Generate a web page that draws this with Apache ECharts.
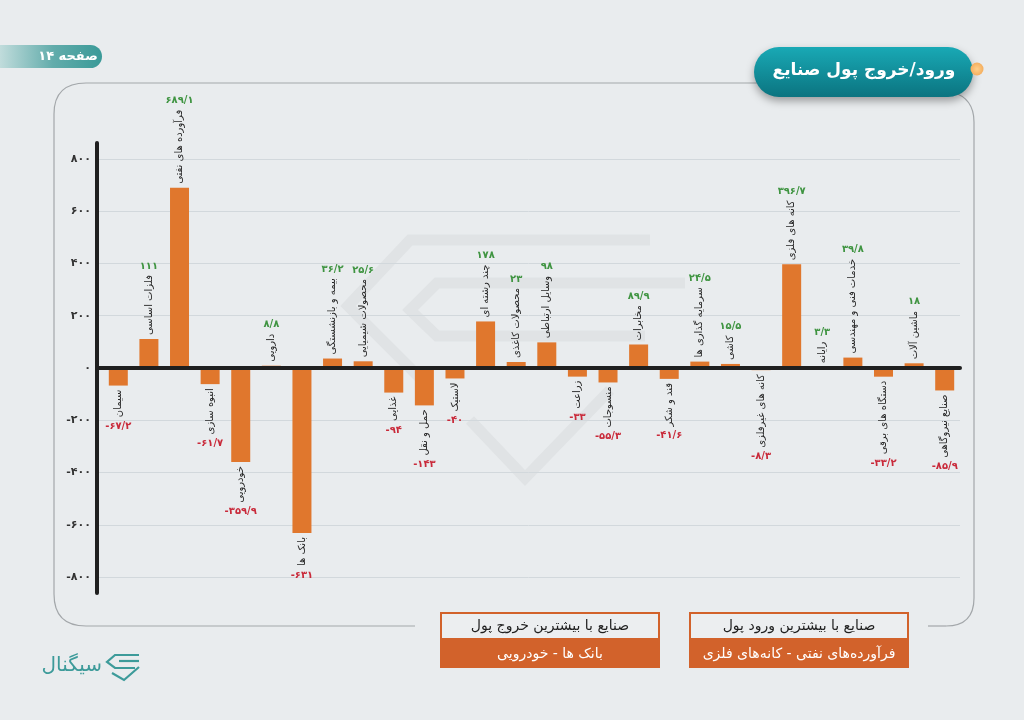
<!DOCTYPE html>
<html>
<head>
<meta charset="utf-8">
<script src="https://cdn.jsdelivr.net/npm/echarts@6/dist/echarts.min.js"></script>
<style>
html,body{margin:0;padding:0;background:#e9ecee;}
#chart{width:1024px;height:720px;}
</style>
</head>
<body>
<div id="chart"></div>
<script>
// ---------- data ----------
const categories = ['سیمان','فلزات اساسی','فرآورده های نفتی','انبوه سازی','خودرویی','دارویی','بانک ها','بیمه و بازنشستگی','محصولات شیمیایی','غذایی','حمل و نقل','لاستیک','چند رشته ای','محصولات کاغذی','وسایل ارتباطی','زراعت','منسوجات','مخابرات','قند و شکر','سرمایه گذاری ها','کاشی','کانه های غیرفلزی','کانه های فلزی','رایانه','خدمات فنی و مهندسی','دستگاه های برقی','ماشین آلات','صنایع نیروگاهی'];
const values = [-67.2,111,689.1,-61.7,-359.9,8.8,-631,36.2,25.6,-94,-143,-40,178,23,98,-33,-55.3,89.9,-41.6,24.5,15.5,-8.3,396.7,3.3,39.8,-33.2,18,-85.9];
const yTicks = [-800,-600,-400,-200,0,200,400,600,800];
const titleText = 'ورود/خروج پول صنایع';
const pageText = 'صفحه ۱۴';
const outTitle = 'صنایع با بیشترین خروج پول';
const outItems = 'بانک ها - خودرویی';
const inTitle = 'صنایع با بیشترین ورود پول';
const inItems = 'فرآورده‌های نفتی - کانه‌های فلزی';
const brandText = 'سیگنال';

// ---------- helpers ----------
const faDigits = '۰۱۲۳۴۵۶۷۸۹';
function toFa(v){
  return String(v).replace('.', '/').replace(/[0-9]/g, d => faDigits[+d]);
}
const FONT = '"DejaVu Sans", "Noto Sans", sans-serif';
const NAME_SIZE = 10;
const measureCtx = document.createElement('canvas').getContext('2d');
function textWidth(t, font){ measureCtx.font = font; return measureCtx.measureText(t).width; }

const ORANGE = '#e0772d';
const GREEN = '#3f9441';
const RED = '#c92a3a';
const TEAL = '#3d9b9a';
const FRAME = '#a3a7aa';

const chart = echarts.init(document.getElementById('chart'), null, {renderer:'canvas'});

function renderLabel(params, api){
  const i = api.value(0), v = api.value(1);
  const p = api.coord([i, v]);
  const name = categories[i];
  const nameFont = NAME_SIZE + 'px ' + FONT;
  const w = textWidth(name, nameFont);
  const gap = 4;
  const children = [];
  if (v >= 0){
    children.push({type:'text', x:p[0], y:p[1]-gap, rotation:Math.PI/2,
      style:{text:name, font:nameFont, fill:'#262626', align:'left', verticalAlign:'middle'}});
    children.push({type:'text', x:p[0], y:p[1]-gap-w-4,
      style:{text:toFa(v), font:'bold 10px ' + FONT, fill:GREEN, align:'center', verticalAlign:'bottom'}});
  } else {
    children.push({type:'text', x:p[0], y:p[1]+gap, rotation:Math.PI/2,
      style:{text:name, font:nameFont, fill:'#262626', align:'right', verticalAlign:'middle'}});
    children.push({type:'text', x:p[0], y:p[1]+gap+w+4,
      style:{text:toFa(v), font:'bold 10px ' + FONT, fill:RED, align:'center', verticalAlign:'top'}});
  }
  return {type:'group', children};
}

function seg(x1,y1,x2,y2){
  return {type:'line', z:0, silent:true, shape:{x1,y1,x2,y2}, style:{stroke:FRAME, lineWidth:1.2}};
}
function curve(x1,y1,cx,cy,x2,y2){
  return {type:'bezierCurve', z:0, silent:true, shape:{x1,y1,x2,y2,cpx1:cx,cpy1:cy}, style:{stroke:FRAME, lineWidth:1.2, fill:null}};
}

const option = {
  backgroundColor:'#e9ecee',
  animation:false,
  textStyle:{fontFamily:FONT},
  grid:[
    {left:103, right:64, top:143.1, height:449.8, outerBoundsMode:'none', containLabel:false},
    {left:97, right:64, top:158.8, height:418.4, outerBoundsMode:'none', containLabel:false}
  ],
  xAxis:[
    {gridIndex:0, type:'category', data:categories, axisLine:{show:false}, axisTick:{show:false}, axisLabel:{show:false}, splitLine:{show:false}},
    {gridIndex:1, type:'value', min:0, max:1, z:10,
      axisLine:{show:true, onZero:true, lineStyle:{color:'#1f1f1f', width:4}},
      axisTick:{show:false}, axisLabel:{show:false}, splitLine:{show:false}}
  ],
  yAxis:[
    {gridIndex:0, type:'value', min:-860, max:860, offset:6, z:10,
      axisLine:{show:true, lineStyle:{color:'#1f1f1f', width:4}},
      axisTick:{show:false}, axisLabel:{show:false}, splitLine:{show:false}},
    {gridIndex:1, type:'value', min:yTicks[0], max:yTicks[yTicks.length-1], interval:200,
      axisLine:{show:false}, axisTick:{show:false},
      axisLabel:{margin:6, formatter:v => toFa(v), color:'#333', fontSize:11, fontWeight:'bold', fontFamily:FONT},
      splitLine:{show:true, lineStyle:{color:'#d2d8dc', width:1}}}
  ],
  series:[
    {type:'bar', xAxisIndex:0, yAxisIndex:0, data:values, barWidth:19, itemStyle:{color:ORANGE}, z:2, silent:true},
    {type:'custom', xAxisIndex:0, yAxisIndex:0, data:values.map((v,i)=>[i,v]), renderItem:renderLabel, clip:false, z:3, silent:true}
  ],
  graphic:[
    // watermark
    {type:'group', z:-1, silent:true, children:[
      {type:'polyline', shape:{points:[[650,240],[410,240],[348,306],[430,388]]}, style:{stroke:'#e0e3e5', lineWidth:11, fill:null, lineJoin:'miter'}},
      {type:'polyline', shape:{points:[[685,283],[437,283],[410,310],[437,336],[645,336]]}, style:{stroke:'#e0e3e5', lineWidth:11, fill:null, lineJoin:'miter'}},
      {type:'polyline', shape:{points:[[470,420],[525,478],[610,390]]}, style:{stroke:'#e0e3e5', lineWidth:11, fill:null, lineJoin:'miter'}}
    ]},
    // frame
    seg(415,626,86,626), curve(86,626,54,626,54,594), seg(54,594,54,114), curve(54,114,54,83,86,83), seg(86,83,760,83),
    curve(952,92,974,98,974,122), seg(974,122,974,598), curve(974,598,974,626,946,626), seg(946,626,928,626),
    // title badge
    {type:'rect', z:5, silent:true, shape:{x:754, y:47, width:219, height:50, r:25},
      style:{fill:new echarts.graphic.LinearGradient(0,0,0,1,[{offset:0,color:'#19a9b5'},{offset:1,color:'#0b7480'}]),
        shadowBlur:8, shadowOffsetY:4, shadowColor:'rgba(0,0,0,0.35)'}},
    {type:'text', z:6, silent:true, x:864, y:71, style:{text:titleText, font:'bold 17px ' + FONT, fill:'#ffffff', align:'center', verticalAlign:'middle'}},
    {type:'circle', z:6, silent:true, shape:{cx:977, cy:69, r:6.5},
      style:{fill:new echarts.graphic.RadialGradient(0.5,0.5,0.6,[{offset:0,color:'#ffd08a'},{offset:1,color:'#f2a857'}])}},
    // page badge
    {type:'rect', z:5, silent:true, shape:{x:-20, y:45, width:122, height:23, r:11.5},
      style:{fill:new echarts.graphic.LinearGradient(0,0,1,0,[{offset:0,color:'#e4eeee'},{offset:0.6,color:'#62acab'},{offset:1,color:'#3a9a98'}])}},
    {type:'text', z:6, silent:true, x:68, y:57, style:{text:pageText, font:'bold 13px ' + FONT, fill:'#ffffff', align:'center', verticalAlign:'middle'}},
    // outflow box
    {type:'rect', z:5, silent:true, shape:{x:441, y:613, width:218, height:26}, style:{fill:'#eceef0', stroke:'#d2622b', lineWidth:2}},
    {type:'rect', z:5, silent:true, shape:{x:440, y:639, width:220, height:29}, style:{fill:'#d2622b'}},
    {type:'text', z:6, silent:true, x:550, y:626, style:{text:outTitle, font:'14px ' + FONT, fill:'#1e1e1e', align:'center', verticalAlign:'middle'}},
    {type:'text', z:6, silent:true, x:550, y:654, style:{text:outItems, font:'14px ' + FONT, fill:'#ffffff', align:'center', verticalAlign:'middle'}},
    // inflow box
    {type:'rect', z:5, silent:true, shape:{x:690, y:613, width:218, height:26}, style:{fill:'#eceef0', stroke:'#d2622b', lineWidth:2}},
    {type:'rect', z:5, silent:true, shape:{x:689, y:639, width:220, height:29}, style:{fill:'#d2622b'}},
    {type:'text', z:6, silent:true, x:799, y:626, style:{text:inTitle, font:'14px ' + FONT, fill:'#1e1e1e', align:'center', verticalAlign:'middle'}},
    {type:'text', z:6, silent:true, x:799, y:654, style:{text:inItems, font:'14px ' + FONT, fill:'#ffffff', align:'center', verticalAlign:'middle'}},
    // brand
    {type:'text', z:6, silent:true, x:102, y:666, style:{text:brandText, font:'20px ' + FONT, fill:TEAL, align:'right', verticalAlign:'middle'}},
    {type:'polyline', z:6, silent:true, shape:{points:[[139,655],[115,655],[107,662],[115,668],[135,668]]}, style:{stroke:TEAL, lineWidth:2.2, fill:null}},
    {type:'polyline', z:6, silent:true, shape:{points:[[139,661],[119,661]]}, style:{stroke:TEAL, lineWidth:2.2, fill:null}},
    {type:'polyline', z:6, silent:true, shape:{points:[[112,673],[124,680],[139,667]]}, style:{stroke:TEAL, lineWidth:2.2, fill:null}}
  ]
};
chart.setOption(option);
</script>
</body>
</html>
